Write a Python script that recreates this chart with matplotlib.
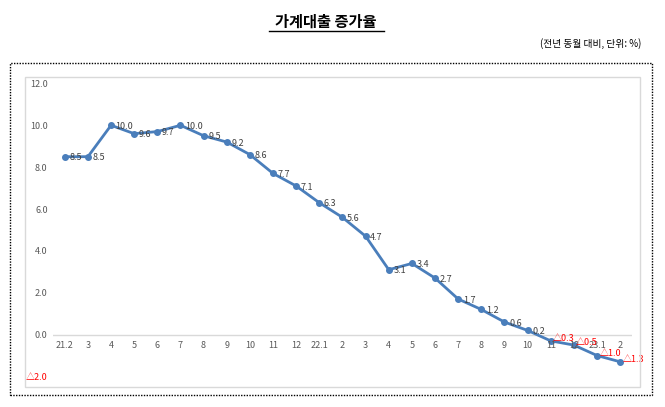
import matplotlib
matplotlib.use("Agg")
import matplotlib.pyplot as plt
from matplotlib.patches import Rectangle

plt.rcParams['font.family'] = ['Noto Sans CJK KR', 'DejaVu Sans']

labels = ["21.2","3","4","5","6","7","8","9","10","11","12","22.1","2","3","4","5","6","7","8","9","10","11","12","23.1","2"]
values = [8.5,8.5,10.0,9.6,9.7,10.0,9.5,9.2,8.6,7.7,7.1,6.3,5.6,4.7,3.1,3.4,2.7,1.7,1.2,0.6,0.2,-0.3,-0.5,-1.0,-1.3]
yticks = [-2,0,2,4,6,8,10,12]

fig = plt.figure(figsize=(6.65,4.07), dpi=100)
fig.text(0.49, 0.935, "가계대출 증가율", ha='center', fontsize=11, fontweight='bold')
fig.add_artist(plt.Line2D([0.405,0.578],[0.925,0.925], color='black', lw=1))
fig.text(0.965, 0.885, "(전년 동월 대비, 단위: %)", ha='right', fontsize=7)
fig.add_artist(Rectangle((0.015,0.03),0.965,0.815, fill=False, ls=(0,(1,1)), lw=1, ec='black', transform=fig.transFigure))
fig.add_artist(Rectangle((0.038,0.05),0.925,0.76, fill=False, lw=1, ec='#d9d9d9', transform=fig.transFigure))

ax = fig.add_axes([0.08,0.075,0.87,0.72])
x = list(range(len(values)))
ax.plot(x, values, color='#4a7ebb', lw=2, marker='o', ms=4)
ax.set_ylim(-2,12)
ax.set_xlim(-0.5,len(values)-0.5)
ax.set_yticks(yticks)
ax.set_yticklabels([("△%.1f" % -t) if t<0 else "%.1f" % t for t in yticks], fontsize=6.5)
for lbl,t in zip(ax.get_yticklabels(), yticks):
    lbl.set_color('red' if t<0 else '#595959')
ax.set_xticks([])
ax.tick_params(axis='y', length=0, pad=4)
for s in ax.spines.values():
    s.set_visible(False)
ax.axhline(0, color='#d9d9d9', lw=1, zorder=0)
for xi, l in zip(x, labels):
    ax.text(xi, -0.5, l, ha='center', va='center', fontsize=6.5, color='#595959')
for xi, v in zip(x, values):
    if v < 0:
        ax.text(xi+0.1, v+0.12, "△%.1f" % -v, ha='left', va='center', fontsize=6.5, color='red')
    else:
        ax.text(xi+0.2, v-0.05, "%.1f" % v, ha='left', va='center', fontsize=6.5, color='#404040')
fig.savefig("out.png", dpi=100)
